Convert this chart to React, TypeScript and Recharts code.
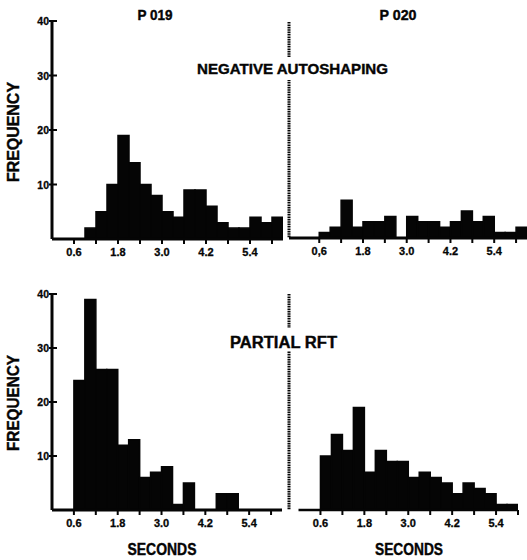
import React from 'react';
import { BarChart, Bar, XAxis, YAxis, ReferenceLine } from 'recharts';

// ---- data ----
const binStarts = [0.6, 0.9, 1.2, 1.5, 1.8, 2.1, 2.4, 2.7, 3.0, 3.3, 3.6, 3.9, 4.2, 4.5, 4.8, 5.1, 5.4, 5.7, 6.0];
const binWidth = 0.3;

const p019Negative = [0, 2, 5, 10, 19, 14, 10, 8, 5, 4, 9, 9, 6, 3, 2, 2, 4, 3, 4];
const p020Negative = [1, 2, 7, 2, 3, 3, 4, 0, 4, 3, 3, 2, 3, 5, 3, 4, 1, 1, 2];
const p019Partial = [24, 39, 26, 26, 12, 13, 6, 7, 8, 1, 5, 0, 0, 3, 3, 0, 0, 0, 0];
const p020Partial = [10, 14, 11, 19, 7, 11, 9, 9, 6, 7, 6, 5, 3, 5, 4, 3, 1, 1];

const xTicks = [0.6, 1.2, 1.8, 2.4, 3.0, 3.6, 4.2, 4.8, 5.4, 6.0];
const xLabelValues = [0.6, 1.8, 3.0, 4.2, 5.4];
const xLabelsDot = ['0.6', '1.8', '3.0', '4.2', '5.4'];
const xLabelsComma = ['0,6', '1.8', '3.0', '4.2', '5.4'];

const yTicks = [10, 20, 30, 40];
const yLabels = ['10', '20', '30', '40'];

const titles = ['P 019', 'P 020'];
const conditionLabels = ['NEGATIVE AUTOSHAPING', 'PARTIAL RFT'];
const yTitle = 'FREQUENCY';
const xTitle = 'SECONDS';

const FONT = "'Liberation Sans', Arial, sans-serif";
const INK = '#050505';

const toData = (values: number[]) =>
  values.map((v, i) => ({ x: binStarts[i] + binWidth / 2, v }));

const makeXTick = (labels: string[]) => (props: any) => {
  const { x, y, payload } = props;
  const idx = xLabelValues.findIndex((t) => Math.abs(t - payload.value) < 1e-6);
  return (
    <g>
      <line x1={x} x2={x} y1={y} y2={y + 5} stroke={INK} strokeWidth={2} />
      {idx >= 0 && (
        <text
          x={x}
          y={y + 17}
          textAnchor="middle"
          fontFamily={FONT}
          fontWeight="bold"
          fontSize={11}
          fill={INK}
          stroke={INK}
          strokeWidth={0.3}
        >
          {labels[idx]}
        </text>
      )}
    </g>
  );
};

const yTick = (props: any) => {
  const { x, y, payload } = props;
  const idx = yTicks.indexOf(payload.value);
  return (
    <g>
      <line x1={x - 3} x2={x + 5} y1={y} y2={y} stroke={INK} strokeWidth={2} />
      <text
        x={x - 3}
        y={y + 4}
        textAnchor="end"
        fontFamily={FONT}
        fontWeight="bold"
        fontSize={10.5}
        fill={INK}
        stroke={INK}
        strokeWidth={0.3}
      >
        {idx >= 0 ? yLabels[idx] : ''}
      </text>
    </g>
  );
};

type PanelProps = {
  values: number[];
  left: number;
  top: number;
  width: number;
  height: number;
  margin: { top: number; right: number; bottom: number; left: number };
  yWidth: number;
  xHeight: number;
  domain: [number, number];
  labels: string[];
  dotted: boolean;
  baselineSegment?: [number, number];
};

function Panel(p: PanelProps) {
  return (
    <div style={{ position: 'absolute', left: p.left, top: p.top, width: p.width, height: p.height }}>
      <BarChart
        width={p.width}
        height={p.height}
        data={toData(p.values)}
        margin={p.margin}
        barCategoryGap={0}
        barGap={0}
      >
        <XAxis
          type="number"
          dataKey="x"
          domain={p.domain}
          allowDataOverflow
          ticks={xTicks}
          interval={0}
          height={p.xHeight}
          tickSize={0}
          tickMargin={0}
          tickLine={false}
          axisLine={p.baselineSegment ? false : { stroke: INK, strokeWidth: 3 }}
          tick={makeXTick(p.labels)}
        />
        {p.dotted ? (
          <YAxis
            type="number"
            domain={[0, 40]}
            allowDataOverflow
            width={p.yWidth}
            tick={false}
            tickLine={false}
            axisLine={{ stroke: INK, strokeWidth: 3, strokeDasharray: '1.6 0.8' }}
          />
        ) : (
          <YAxis
            type="number"
            domain={[0, 40]}
            allowDataOverflow
            ticks={yTicks}
            interval={0}
            width={p.yWidth}
            tickSize={0}
            tickMargin={0}
            tickLine={false}
            axisLine={{ stroke: INK, strokeWidth: 3 }}
            tick={yTick}
          />
        )}
        {p.baselineSegment && (
          <ReferenceLine
            segment={[
              { x: p.baselineSegment[0], y: 0 },
              { x: p.baselineSegment[1], y: 0 },
            ]}
            stroke={INK}
            strokeWidth={2.5}
            ifOverflow="visible"
          />
        )}
        <Bar dataKey="v" fill={INK} stroke={INK} strokeWidth={1.5} isAnimationActive={false} />
      </BarChart>
    </div>
  );
}

export default function App() {
  const boldText = { fontFamily: FONT, fontWeight: 'bold' as const, fill: INK, stroke: INK, strokeWidth: 0.4 };
  return (
    <div
      style={{
        position: 'absolute',
        left: 0,
        top: 0,
        width: 527,
        height: 560,
        background: '#fff',
        overflow: 'hidden',
      }}
    >
      <Panel
        values={p019Negative}
        left={0}
        top={0}
        width={290}
        height={262}
        margin={{ top: 21, right: 7, bottom: 0, left: 0 }}
        yWidth={52}
        xHeight={23}
        domain={[0, 6.3]}
        labels={xLabelsDot}
        dotted={false}
      />
      <Panel
        values={p020Negative}
        left={280}
        top={0}
        width={247}
        height={262}
        margin={{ top: 22, right: 0, bottom: 0, left: 0 }}
        yWidth={9}
        xHeight={24}
        domain={[-0.23, 6.3]}
        labels={xLabelsComma}
        dotted={true}
      />
      <Panel
        values={p019Partial}
        left={0}
        top={270}
        width={290}
        height={262}
        margin={{ top: 24, right: 8, bottom: 0, left: 0 }}
        yWidth={52}
        xHeight={22}
        domain={[0, 6.3]}
        labels={xLabelsDot}
        dotted={false}
      />
      <Panel
        values={p020Partial}
        left={280}
        top={270}
        width={247}
        height={262}
        margin={{ top: 24, right: 9, bottom: 0, left: 0 }}
        yWidth={9}
        xHeight={22}
        domain={[-0.26, 6.0]}
        labels={xLabelsDot}
        dotted={true}
        baselineSegment={[0, 6.0]}
      />
      <svg
        width={527}
        height={560}
        style={{ position: 'absolute', left: 0, top: 0, pointerEvents: 'none' }}
      >
        <text x={155} y={20} textAnchor="middle" fontSize={14} textLength={35} lengthAdjust="spacingAndGlyphs" {...boldText}>
          {titles[0]}
        </text>
        <text x={398} y={20} textAnchor="middle" fontSize={14} textLength={37} lengthAdjust="spacingAndGlyphs" {...boldText}>
          {titles[1]}
        </text>

        <rect x={195} y={57} width={196} height={23} fill="#fff" stroke="none" />
        <text x={197} y={73.5} fontSize={15} textLength={191} lengthAdjust="spacingAndGlyphs" {...boldText}>
          {conditionLabels[0]}
        </text>

        <rect x={228} y={328} width={112} height={23} fill="#fff" stroke="none" />
        <text x={230} y={348} fontSize={16} textLength={107} lengthAdjust="spacingAndGlyphs" {...boldText}>
          {conditionLabels[1]}
        </text>

        <text transform="translate(19,132) rotate(-90)" textAnchor="middle" fontSize={16} textLength={100} lengthAdjust="spacingAndGlyphs" {...boldText}>
          {yTitle}
        </text>
        <text transform="translate(19,403) rotate(-90)" textAnchor="middle" fontSize={16} textLength={96} lengthAdjust="spacingAndGlyphs" {...boldText}>
          {yTitle}
        </text>

        <text x={162} y={555} textAnchor="middle" fontSize={16} textLength={69} lengthAdjust="spacingAndGlyphs" {...boldText}>
          {xTitle}
        </text>
        <text x={409} y={555} textAnchor="middle" fontSize={16} textLength={68} lengthAdjust="spacingAndGlyphs" {...boldText}>
          {xTitle}
        </text>
      </svg>
    </div>
  );
}
